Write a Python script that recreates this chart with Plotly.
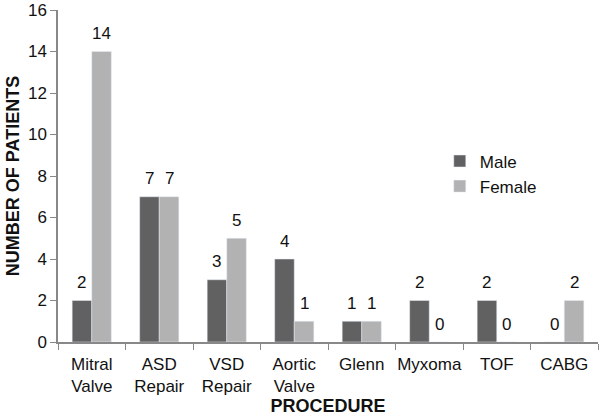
import plotly.graph_objects as go

categories = ["Mitral<br>Valve", "ASD<br>Repair", "VSD<br>Repair", "Aortic<br>Valve", "Glenn", "Myxoma", "TOF", "CABG"]
male = [2, 7, 3, 4, 1, 2, 2, 0]
female = [14, 7, 5, 1, 1, 0, 0, 2]
y_ticks = [0, 2, 4, 6, 8, 10, 12, 14, 16]

fnt = "Liberation Sans, Arial, sans-serif"

fig = go.Figure()
fig.add_trace(go.Bar(x=categories, y=male, name="Male", marker_color="#616161",
                     legendgroup="m"))
fig.add_trace(go.Bar(x=categories, y=female, name="Female", marker_color="#b2b2b2",
                     legendgroup="f"))

# value labels above the bars
for series, shift in ((male, -10), (female, 10)):
    for c, v in zip(categories, series):
        fig.add_annotation(x=c, y=v, text=str(v), showarrow=False, xshift=shift,
                           yshift=18, font=dict(size=17, color="#111"))

fig.update_layout(
    width=600, height=420,
    margin=dict(l=58, r=2, t=10, b=78),
    barmode="group", bargap=0.42, bargroupgap=0,
    plot_bgcolor="white", paper_bgcolor="white",
    font=dict(family=fnt, size=17, color="#111"),
    legend=dict(x=0.707, y=0.598, xanchor="left", yanchor="top",
                font=dict(size=17), itemwidth=30, tracegroupgap=0,
                bgcolor="rgba(0,0,0,0)"),
    xaxis=dict(showline=True, linecolor="#888", linewidth=1.5, automargin=False,
               ticks="outside", tickson="boundaries", ticklen=6, tickcolor="#888",
               tickangle=0, tickfont=dict(size=17), ticklabelstandoff=6,
               title=dict(text="<b>PROCEDURE</b>", font=dict(size=18), standoff=4)),
    yaxis=dict(range=[0, 16], tickvals=y_ticks, showline=True, linecolor="#888", linewidth=1.5,
               automargin=False,
               ticks="outside", ticklen=6, tickcolor="#888", showgrid=False, zeroline=False,
               tickfont=dict(size=17),
               title=dict(text="<b>NUMBER OF PATIENTS</b>", font=dict(size=18), standoff=4)),
)

fig.write_html("out.html", config={"displayModeBar": False},
               post_script="document.body.style.margin='0';")
